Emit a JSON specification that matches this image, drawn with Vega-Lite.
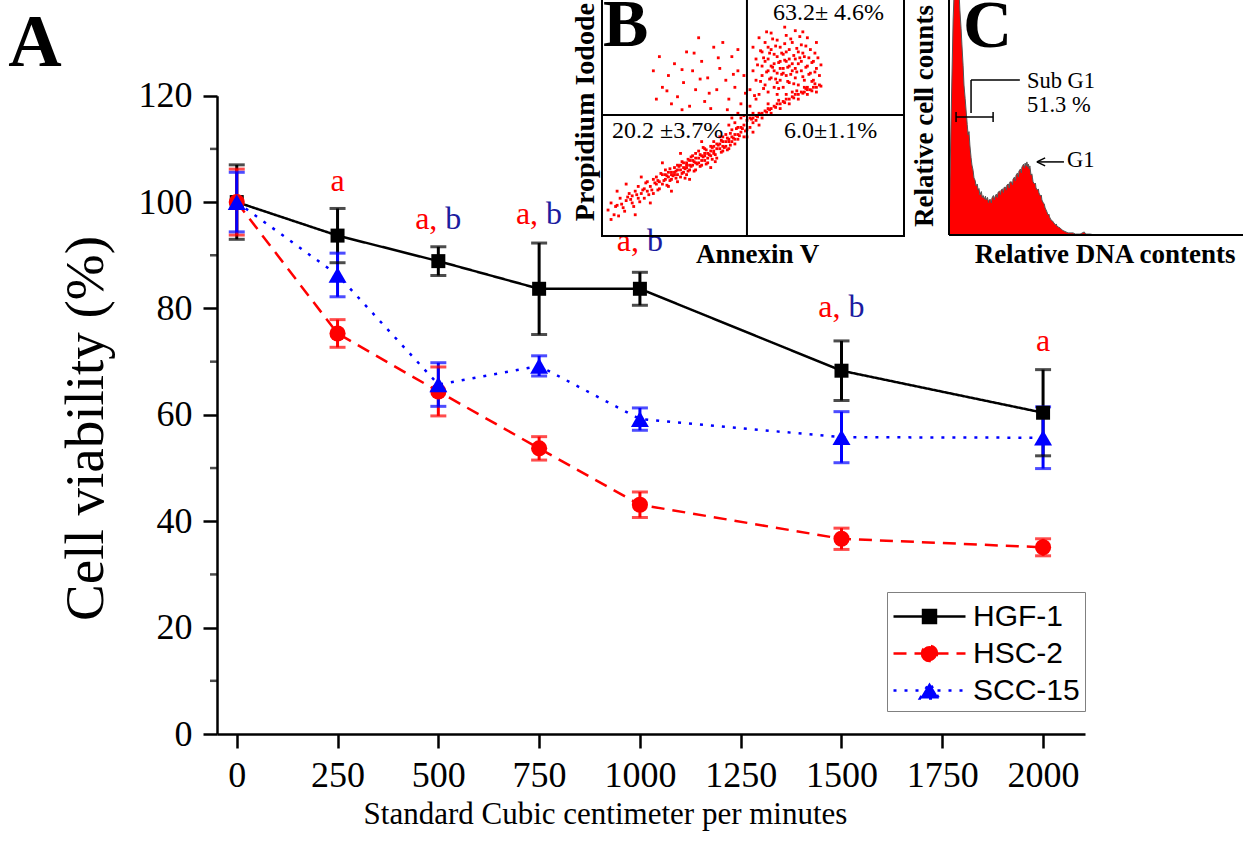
{
  "$schema": "https://vega.github.io/schema/vega-lite/v6.json",
  "width": 1026,
  "height": 734,
  "autosize": {"type": "none"},
  "padding": {"left": 217, "top": 0, "right": 0, "bottom": 110},
  "background": "white",
  "config": {
    "view": {"stroke": null},
    "axis": {"domainColor": "black", "domainWidth": 2.5, "tickColor": "black", "tickWidth": 2.5, "tickSize": 14, "labelColor": "black", "labelFont": "Liberation Serif", "labelFontSize": 36, "titleFont": "Liberation Serif", "titleFontWeight": "normal", "titleColor": "black", "grid": false, "labelFlush": false, "labelOverlap": false}
  },
  "datasets": {
    "viability": [
      {"series": "HGF-1", "dose": 0, "mean": 100, "lo": 93.0, "hi": 107.0},
      {"series": "HGF-1", "dose": 250, "mean": 93.7, "lo": 88.6, "hi": 98.8},
      {"series": "HGF-1", "dose": 500, "mean": 88.9, "lo": 86.2, "hi": 91.6},
      {"series": "HGF-1", "dose": 750, "mean": 83.7, "lo": 75.1, "hi": 92.3},
      {"series": "HGF-1", "dose": 1000, "mean": 83.7, "lo": 80.6, "hi": 86.8},
      {"series": "HGF-1", "dose": 1500, "mean": 68.3, "lo": 62.7, "hi": 73.9},
      {"series": "HGF-1", "dose": 2000, "mean": 60.4, "lo": 52.3, "hi": 68.5},
      {"series": "HSC-2", "dose": 0, "mean": 100, "lo": 93.8, "hi": 106.2},
      {"series": "HSC-2", "dose": 250, "mean": 75.3, "lo": 72.7, "hi": 77.9},
      {"series": "HSC-2", "dose": 500, "mean": 64.4, "lo": 59.8, "hi": 69.0},
      {"series": "HSC-2", "dose": 750, "mean": 53.7, "lo": 51.5, "hi": 55.9},
      {"series": "HSC-2", "dose": 1000, "mean": 43.1, "lo": 40.7, "hi": 45.5},
      {"series": "HSC-2", "dose": 1500, "mean": 36.7, "lo": 34.7, "hi": 38.7},
      {"series": "HSC-2", "dose": 2000, "mean": 35.1, "lo": 33.5, "hi": 36.7},
      {"series": "SCC-15", "dose": 0, "mean": 100, "lo": 94.4, "hi": 105.6},
      {"series": "SCC-15", "dose": 250, "mean": 86.3, "lo": 82.2, "hi": 90.4},
      {"series": "SCC-15", "dose": 500, "mean": 65.7, "lo": 61.6, "hi": 69.8},
      {"series": "SCC-15", "dose": 750, "mean": 69.2, "lo": 67.3, "hi": 71.1},
      {"series": "SCC-15", "dose": 1000, "mean": 59.2, "lo": 57.1, "hi": 61.3},
      {"series": "SCC-15", "dose": 1500, "mean": 55.8, "lo": 51.0, "hi": 60.6},
      {"series": "SCC-15", "dose": 2000, "mean": 55.7, "lo": 49.9, "hi": 61.5}
    ],
    "signif": [
      {"dose": 250, "pos": 102.1, "red": "a", "blue": ""},
      {"dose": 500, "pos": 95.0, "red": "a,", "blue": "b"},
      {"dose": 750, "pos": 95.9, "red": "a,", "blue": "b"},
      {"dose": 1000, "pos": 90.8, "red": "a,", "blue": "b"},
      {"dose": 1500, "pos": 78.4, "red": "a,", "blue": "b"},
      {"dose": 2000, "pos": 72.0, "red": "a", "blue": ""}
    ],
    "minor": [{"v": 10}, {"v": 30}, {"v": 50}, {"v": 70}, {"v": 90}, {"v": 110}],
    "flow": [
      {"a":2,"p":11},{"a":3,"p":14},{"a":4,"p":9},{"a":5,"p":13},{"a":6,"p":16},{"a":7,"p":12},{"a":8,"p":15},{"a":9,"p":18},{"a":10,"p":14},{"a":10,"p":17},
      {"a":11,"p":19},{"a":12,"p":16},{"a":12,"p":21},{"a":13,"p":18},{"a":14,"p":20},{"a":14,"p":16},{"a":15,"p":23},{"a":15,"p":19},{"a":16,"p":21},{"a":17,"p":24},
      {"a":17,"p":18},{"a":18,"p":22},{"a":18,"p":25},{"a":19,"p":20},{"a":19,"p":23},{"a":20,"p":26},{"a":20,"p":22},{"a":21,"p":24},{"a":21,"p":28},{"a":22,"p":25},
      {"a":22,"p":21},{"a":23,"p":27},{"a":23,"p":24},{"a":24,"p":29},{"a":24,"p":26},{"a":25,"p":23},{"a":25,"p":28},{"a":26,"p":30},{"a":26,"p":25},{"a":27,"p":27},
      {"a":27,"p":31},{"a":28,"p":29},{"a":28,"p":26},{"a":29,"p":32},{"a":29,"p":28},{"a":30,"p":30},{"a":30,"p":34},{"a":31,"p":31},{"a":31,"p":28},{"a":32,"p":33},
      {"a":32,"p":36},{"a":33,"p":30},{"a":33,"p":34},{"a":34,"p":37},{"a":34,"p":32},{"a":35,"p":35},{"a":35,"p":31},{"a":36,"p":38},{"a":36,"p":34},{"a":37,"p":36},
      {"a":37,"p":40},{"a":38,"p":33},{"a":38,"p":37},{"a":39,"p":39},{"a":39,"p":42},{"a":40,"p":36},{"a":40,"p":40},{"a":41,"p":38},{"a":41,"p":43},{"a":42,"p":40},
      {"a":42,"p":37},{"a":43,"p":42},{"a":43,"p":45},{"a":44,"p":39},{"a":44,"p":43},{"a":45,"p":41},{"a":45,"p":46},{"a":46,"p":44},{"a":47,"p":42},{"a":47,"p":47},
      {"a":48,"p":45},{"a":8,"p":22},{"a":13,"p":25},{"a":20,"p":31},{"a":26,"p":35},{"a":33,"p":40},{"a":5,"p":19},{"a":16,"p":14},{"a":23,"p":19},{"a":29,"p":24},
      {"a":36,"p":29},{"a":11,"p":9},{"a":3,"p":7},
      {"a":21,"p":26},{"a":22,"p":27},{"a":23,"p":26},{"a":24,"p":27},{"a":25,"p":26},{"a":26,"p":28},{"a":27,"p":29},{"a":28,"p":30},{"a":29,"p":30},{"a":30,"p":32},
      {"a":31,"p":33},{"a":32,"p":31},{"a":33,"p":32},{"a":34,"p":34},{"a":35,"p":33},{"a":36,"p":36},{"a":37,"p":35},{"a":38,"p":39},{"a":39,"p":37},{"a":40,"p":38},
      {"a":41,"p":40},{"a":42,"p":41},{"a":43,"p":40},{"a":44,"p":41},{"a":45,"p":43},{"a":25,"p":30},{"a":28,"p":31},{"a":31,"p":35},{"a":34,"p":35},{"a":37,"p":38},{"a":40,"p":42},
      {"a":4.5,"p":12.5},{"a":6.5,"p":13.5},{"a":8.5,"p":16.5},{"a":9.5,"p":15.5},{"a":11.5,"p":17.5},{"a":13.5,"p":19.5},{"a":14.5,"p":22.5},{"a":16.5,"p":19.5},{"a":17.5,"p":22.5},{"a":18.5,"p":23.5},
      {"a":19.5,"p":26.5},{"a":20.5,"p":23.5},{"a":21.5,"p":25.5},{"a":22.5,"p":23.5},{"a":22.5,"p":28.5},{"a":23.5,"p":25.5},{"a":24.5,"p":24.5},{"a":24.5,"p":27.5},{"a":25.5,"p":29.5},{"a":26.5,"p":26.5},
      {"a":26.5,"p":31.5},{"a":27.5,"p":28.5},{"a":28.5,"p":27.5},{"a":28.5,"p":32.5},{"a":29.5,"p":29.5},{"a":30.5,"p":31.5},{"a":30.5,"p":27.5},{"a":31.5,"p":30.5},{"a":32.5,"p":34.5},{"a":32.5,"p":29.5},
      {"a":33.5,"p":33.5},{"a":34.5,"p":36.5},{"a":34.5,"p":30.5},{"a":35.5,"p":34.5},{"a":36.5,"p":32.5},{"a":36.5,"p":37.5},{"a":37.5,"p":34.5},{"a":38.5,"p":38.5},{"a":39.5,"p":35.5},{"a":39.5,"p":40.5},
      {"a":40.5,"p":37.5},{"a":41.5,"p":41.5},{"a":42.5,"p":38.5},{"a":42.5,"p":43.5},{"a":43.5,"p":41.5},{"a":44.5,"p":45.5},{"a":45.5,"p":42.5},{"a":46.5,"p":45.5},{"a":47.5,"p":44.5},{"a":29.5,"p":33.5},
      {"a":27.5,"p":24.5},{"a":33.5,"p":37.5},{"a":37.5,"p":31.5},{"a":41.5,"p":36.5},{"a":21.5,"p":21.5},{"a":18.5,"p":19.5},{"a":15.5,"p":17.5},{"a":12.5,"p":14.5},{"a":7.5,"p":10.5},{"a":5.5,"p":8.5},{"a":10.5,"p":12.5},
      {"a":49,"p":62},{"a":50,"p":70},{"a":50,"p":80},{"a":51,"p":66},{"a":51,"p":75},{"a":52,"p":84},{"a":52,"p":60},{"a":53,"p":72},{"a":53,"p":68},{"a":53,"p":78},
      {"a":54,"p":64},{"a":54,"p":82},{"a":55,"p":70},{"a":55,"p":75},{"a":55,"p":61},{"a":56,"p":86},{"a":56,"p":67},{"a":56,"p":79},{"a":57,"p":73},{"a":57,"p":63},
      {"a":57,"p":77},{"a":58,"p":69},{"a":58,"p":83},{"a":58,"p":60},{"a":59,"p":74},{"a":59,"p":66},{"a":59,"p":80},{"a":60,"p":71},{"a":60,"p":77},{"a":60,"p":63},
      {"a":61,"p":68},{"a":61,"p":85},{"a":61,"p":74},{"a":62,"p":65},{"a":62,"p":79},{"a":62,"p":72},{"a":63,"p":70},{"a":63,"p":82},{"a":63,"p":61},{"a":64,"p":75},
      {"a":64,"p":67},{"a":64,"p":87},{"a":65,"p":73},{"a":65,"p":78},{"a":65,"p":64},{"a":66,"p":70},{"a":66,"p":81},{"a":67,"p":66},{"a":67,"p":76},{"a":68,"p":72},
      {"a":68,"p":84},{"a":68,"p":63},{"a":69,"p":69},{"a":69,"p":79},{"a":70,"p":74},{"a":70,"p":66},{"a":71,"p":71},{"a":71,"p":82},{"a":72,"p":68},{"a":56,"p":72},
      {"a":58,"p":76},{"a":60,"p":69},{"a":62,"p":75},{"a":57,"p":70},{"a":61,"p":78},{"a":59,"p":71},{"a":63,"p":73},{"a":54,"p":74},{"a":66,"p":74},{"a":64,"p":71},
      {"a":58,"p":65},{"a":55,"p":80},{"a":49,"p":55},{"a":51,"p":58},{"a":50,"p":52},
      {"a":52.5,"p":65.5},{"a":53.5,"p":75.5},{"a":54.5,"p":69.5},{"a":55.5,"p":66.5},{"a":55.5,"p":77.5},{"a":56.5,"p":71.5},{"a":56.5,"p":83.5},{"a":57.5,"p":66.5},{"a":57.5,"p":80.5},{"a":58.5,"p":73.5},
      {"a":58.5,"p":62.5},{"a":59.5,"p":68.5},{"a":59.5,"p":77.5},{"a":60.5,"p":74.5},{"a":60.5,"p":81.5},{"a":61.5,"p":65.5},{"a":61.5,"p":71.5},{"a":62.5,"p":68.5},{"a":62.5,"p":83.5},{"a":63.5,"p":76.5},
      {"a":63.5,"p":64.5},{"a":64.5,"p":79.5},{"a":64.5,"p":69.5},{"a":65.5,"p":75.5},{"a":65.5,"p":84.5},{"a":66.5,"p":67.5},{"a":66.5,"p":77.5},{"a":67.5,"p":71.5},{"a":67.5,"p":80.5},{"a":68.5,"p":68.5},
      {"a":68.5,"p":75.5},{"a":69.5,"p":73.5},{"a":69.5,"p":65.5},{"a":70.5,"p":77.5},{"a":70.5,"p":69.5},{"a":71.5,"p":75.5},{"a":72.5,"p":72.5},{"a":50.5,"p":59.5},{"a":51.5,"p":72.5},{"a":52.5,"p":78.5},
      {"a":53.5,"p":62.5},{"a":54.5,"p":86.5},{"a":66.5,"p":86.5},{"a":60.5,"p":88.5},
      {"a":48,"p":49},{"a":49,"p":50},{"a":50,"p":50},{"a":51,"p":51},{"a":52,"p":52},{"a":53,"p":52},{"a":54,"p":53},{"a":55,"p":54},{"a":56,"p":54},{"a":57,"p":55},
      {"a":58,"p":56},{"a":59,"p":56},{"a":60,"p":57},{"a":61,"p":58},{"a":62,"p":58},{"a":63,"p":59},{"a":64,"p":60},{"a":65,"p":60},{"a":66,"p":61},{"a":67,"p":61},
      {"a":68,"p":62},{"a":69,"p":62},{"a":70,"p":63},{"a":71,"p":63},{"a":72,"p":64},{"a":50,"p":48},{"a":53,"p":50},{"a":56,"p":52},{"a":59,"p":54},{"a":62,"p":56},
      {"a":65,"p":58},{"a":68,"p":60},{"a":71,"p":61},{"a":55,"p":56},{"a":61,"p":60},{"a":67,"p":63},
      {"a":49.5,"p":49.5},{"a":51.5,"p":50.5},{"a":54.5,"p":52.5},{"a":57.5,"p":54.5},{"a":60.5,"p":56.5},{"a":63.5,"p":58.5},{"a":66.5,"p":60.5},{"a":69.5,"p":61.5},{"a":72.5,"p":63.5},{"a":58.5,"p":57.5},
      {"a":64.5,"p":61.5},{"a":70.5,"p":64.5},{"a":52.5,"p":51.5},{"a":55.5,"p":53.5},{"a":67.5,"p":62.5},
      {"a":44,"p":48},{"a":46,"p":50},{"a":45,"p":52},{"a":47,"p":51},{"a":43,"p":50},{"a":49,"p":46},{"a":50,"p":44},{"a":52,"p":47},{"a":48,"p":42},{"a":51,"p":49},
      {"a":46,"p":46},{"a":42,"p":47},
      {"a":17,"p":70},{"a":19,"p":76},{"a":20,"p":63},{"a":22,"p":68},{"a":24,"p":73},{"a":25,"p":59},{"a":27,"p":65},{"a":28,"p":78},{"a":30,"p":70},{"a":31,"p":62},
      {"a":33,"p":74},{"a":34,"p":57},{"a":35,"p":67},{"a":37,"p":80},{"a":38,"p":62},{"a":39,"p":71},{"a":41,"p":66},{"a":42,"p":58},{"a":43,"p":76},{"a":44,"p":63},
      {"a":45,"p":70},{"a":46,"p":56},{"a":47,"p":68},{"a":40,"p":82},{"a":36,"p":54},{"a":29,"p":55},{"a":23,"p":56},{"a":32,"p":84},{"a":45,"p":79},{"a":18,"p":58},
      {"a":21.5,"p":61.5},{"a":26.5,"p":70.5},{"a":32.5,"p":66.5},{"a":38.5,"p":75.5},{"a":43.5,"p":68.5},{"a":30.5,"p":77.5},{"a":35.5,"p":60.5},{"a":41.5,"p":53.5},{"a":26.5,"p":53.5},{"a":47.5,"p":60.5}
    ],
    "flowLabels": [
      {"t": "63.2± 4.6%", "x": 56.6, "y": 91.5},
      {"t": "20.2 ±3.7%", "x": 3.3, "y": 41.5},
      {"t": "6.0±1.1%", "x": 60.3, "y": 41.5}
    ],
    "dna": [
      {"ch":0,"n":0},{"ch":0.7,"n":48.9},{"ch":1.4,"n":91.5},{"ch":2.0,"n":112},{"ch":3.1,"n":112},{"ch":3.7,"n":95.7},{"ch":4.1,"n":88},{"ch":4.4,"n":80.9},
      {"ch":4.8,"n":72},{"ch":5.1,"n":63.8},{"ch":5.5,"n":58},{"ch":5.8,"n":53.2},{"ch":6.2,"n":47},{"ch":6.5,"n":42.6},{"ch":6.8,"n":44},{"ch":7.1,"n":38.3},
      {"ch":7.5,"n":33},{"ch":7.8,"n":29.8},{"ch":8.2,"n":27.5},{"ch":8.5,"n":24.3},{"ch":8.9,"n":23.2},{"ch":9.2,"n":20.9},{"ch":9.6,"n":21.7},{"ch":9.9,"n":19.1},
      {"ch":10.2,"n":19.8},{"ch":10.5,"n":17.0},{"ch":11.0,"n":18.5},{"ch":11.3,"n":16.0},{"ch":11.6,"n":16.8},{"ch":12.1,"n":15.3},{"ch":12.4,"n":16.6},{"ch":12.6,"n":14.9},
      {"ch":13.1,"n":16.0},{"ch":13.4,"n":13.8},{"ch":13.6,"n":14.9},{"ch":14.1,"n":15.1},{"ch":14.4,"n":13.6},{"ch":14.6,"n":15.7},{"ch":15.1,"n":16.8},{"ch":15.4,"n":15.0},
      {"ch":15.6,"n":16.2},{"ch":16.1,"n":17.4},{"ch":16.4,"n":16.0},{"ch":16.7,"n":18.2},{"ch":17.2,"n":18.7},{"ch":17.5,"n":17.2},{"ch":17.7,"n":19.1},{"ch":18.2,"n":19.6},
      {"ch":18.5,"n":18.1},{"ch":18.7,"n":20.2},{"ch":19.2,"n":20.4},{"ch":19.5,"n":19.1},{"ch":19.7,"n":21.3},{"ch":20.2,"n":21.7},{"ch":20.5,"n":20.0},{"ch":20.7,"n":22.6},
      {"ch":21.3,"n":22.6},{"ch":21.6,"n":21.4},{"ch":21.8,"n":23.8},{"ch":22.3,"n":24.7},{"ch":22.6,"n":23.0},{"ch":22.8,"n":25.5},{"ch":23.3,"n":26.4},{"ch":23.6,"n":24.7},
      {"ch":23.8,"n":27.2},{"ch":24.3,"n":28.1},{"ch":24.6,"n":26.4},{"ch":24.8,"n":28.9},{"ch":25.4,"n":30.2},{"ch":25.7,"n":28.5},{"ch":25.9,"n":30.6},{"ch":26.2,"n":29.4},
      {"ch":26.5,"n":31.1},{"ch":26.8,"n":28.9},{"ch":27.0,"n":30.2},{"ch":27.3,"n":28.1},{"ch":27.5,"n":29.4},{"ch":27.9,"n":25.5},{"ch":28.2,"n":26.0},{"ch":28.4,"n":24.3},
      {"ch":28.6,"n":22.6},{"ch":29.1,"n":21.7},{"ch":29.4,"n":22.1},{"ch":29.6,"n":20.0},{"ch":30.1,"n":19.1},{"ch":30.4,"n":19.6},{"ch":30.6,"n":17.9},{"ch":31.1,"n":16.6},
      {"ch":31.4,"n":17.0},{"ch":31.6,"n":14.9},{"ch":32.1,"n":13.6},{"ch":32.4,"n":13.2},{"ch":32.7,"n":11.5},{"ch":33.2,"n":10.2},{"ch":33.7,"n":8.5},{"ch":34.0,"n":8.9},
      {"ch":34.2,"n":7.7},{"ch":34.7,"n":6.4},{"ch":35.2,"n":6.0},{"ch":35.7,"n":5.1},{"ch":36.2,"n":4.3},{"ch":36.5,"n":4.7},{"ch":36.7,"n":3.8},{"ch":37.2,"n":3.4},
      {"ch":37.8,"n":3.0},{"ch":38.5,"n":2.1},{"ch":39.1,"n":1.7},{"ch":40.5,"n":0.9},{"ch":42.2,"n":0.9},{"ch":43.0,"n":0.4},{"ch":44.6,"n":0.4},{"ch":46.0,"n":1.3},
      {"ch":46.5,"n":0.4},{"ch":48.0,"n":0.4},{"ch":49.7,"n":0},{"ch":51.4,"n":0}
    ],
    "gate": [
      {"x": 2.4, "x2": 15.0, "y": 50.2, "y2": 50.2},
      {"x": 2.4, "x2": 2.4, "y": 48.1, "y2": 52.3},
      {"x": 15.0, "x2": 15.0, "y": 48.1, "y2": 52.3},
      {"x": 7.5, "x2": 7.5, "y": 51.9, "y2": 66.0},
      {"x": 7.5, "x2": 24.1, "y": 66.0, "y2": 66.0},
      {"x": 29.9, "x2": 39.1, "y": 31.1, "y2": 31.1},
      {"x": 29.9, "x2": 32.7, "y": 31.1, "y2": 32.8},
      {"x": 29.9, "x2": 32.7, "y": 31.1, "y2": 29.4}
    ],
    "dnaLabels": [
      {"t": "Sub G1", "x": 26.5, "y": 62.6},
      {"t": "51.3 %", "x": 26.5, "y": 52.3},
      {"t": "G1", "x": 40.1, "y": 28.9}
    ],
    "one": [{}]
  },
  "layer": [
    {
      "layer": [
        {
          "data": {"name": "viability"},
          "mark": {"type": "line", "strokeWidth": 2.5},
          "encoding": {
            "x": {"field": "dose", "type": "quantitative", "scale": {"domain": [-49, 2104], "range": [0, 868], "nice": false, "zero": false},
                  "axis": {"values": [0, 250, 500, 750, 1000, 1250, 1500, 1750, 2000], "format": "d", "title": "Standard Cubic centimeter per minutes", "titleFontSize": 31, "titleX": 388, "titleY": 89, "titleAlign": "center", "titleBaseline": "alphabetic", "labelPadding": 10}},
            "y": {"field": "mean", "type": "quantitative", "scale": {"domain": [0, 120], "range": [734, 95.7], "nice": false, "zero": false},
                  "axis": {"values": [0, 20, 40, 60, 80, 100, 120], "title": "Cell viability (%)", "titleFontSize": 55, "titleX": -115, "titleY": 428, "titleAngle": -90, "titleAlign": "center", "titleBaseline": "alphabetic", "labelPadding": 11}},
            "color": {"field": "series", "type": "nominal", "scale": {"domain": ["HGF-1", "HSC-2", "SCC-15"], "range": ["#000000", "#ff0000", "#0000ff"]},
                      "legend": {"orient": "none", "legendX": 670, "legendY": 592, "title": null, "symbolSize": 1296, "symbolStrokeWidth": 2.5, "symbolOffset": 18, "labelOffset": 24,
                                 "labelFont": "Liberation Sans", "labelFontSize": 30, "labelColor": "black", "padding": 5, "rowPadding": 2, "strokeColor": "#808080", "fillColor": "white",
                                 "encode": {"symbols": {"update": {
                                   "shape": {"signal": "datum.value === 'HGF-1' ? 'M-2,0H2M-0.36,-0.36H0.36V0.36H-0.36Z' : datum.value === 'HSC-2' ? 'M-2,0H2M-0.42,0A0.42,0.42,0,1,0,0.42,0A0.42,0.42,0,1,0,-0.42,0Z' : 'M-2,0H2M-0.53,0.44L0,-0.44L0.53,0.44Z'"},
                                   "fill": {"signal": "datum.value === 'HGF-1' ? '#000000' : datum.value === 'HSC-2' ? '#ff0000' : '#0000ff'"},
                                   "stroke": {"signal": "datum.value === 'HGF-1' ? '#000000' : datum.value === 'HSC-2' ? '#ff0000' : '#0000ff'"},
                                   "strokeDash": {"signal": "datum.value === 'HSC-2' ? [9,6] : datum.value === 'SCC-15' ? [2,7] : [1,0]"},
                                   "opacity": {"value": 1},
                                   "fillOpacity": {"value": 1}
                                 }}}}},
            "strokeDash": {"field": "series", "type": "nominal", "scale": {"domain": ["HGF-1", "HSC-2", "SCC-15"], "range": [[1, 0], [13, 8], [3, 8]]}, "legend": null}
          }
        },
        {
          "data": {"name": "viability"},
          "mark": {"type": "rule", "strokeWidth": 3},
          "encoding": {
            "x": {"field": "dose", "type": "quantitative", "scale": {"domain": [-49, 2104], "range": [0, 868], "nice": false, "zero": false}, "title": "Standard Cubic centimeter per minutes"},
            "y": {"field": "lo", "type": "quantitative", "scale": {"domain": [0, 120], "range": [734, 95.7], "nice": false, "zero": false}, "title": "Cell viability (%)"},
            "y2": {"field": "hi"},
            "color": {"field": "series", "type": "nominal"}
          }
        },
        {
          "data": {"name": "viability"},
          "mark": {"type": "tick", "orient": "horizontal", "size": 16, "thickness": 3},
          "encoding": {
            "x": {"field": "dose", "type": "quantitative", "scale": {"domain": [-49, 2104], "range": [0, 868], "nice": false, "zero": false}, "title": "Standard Cubic centimeter per minutes"},
            "y": {"field": "lo", "type": "quantitative", "scale": {"domain": [0, 120], "range": [734, 95.7], "nice": false, "zero": false}, "title": "Cell viability (%)"},
            "color": {"field": "series", "type": "nominal"}
          }
        },
        {
          "data": {"name": "viability"},
          "mark": {"type": "tick", "orient": "horizontal", "size": 16, "thickness": 3},
          "encoding": {
            "x": {"field": "dose", "type": "quantitative", "scale": {"domain": [-49, 2104], "range": [0, 868], "nice": false, "zero": false}, "title": "Standard Cubic centimeter per minutes"},
            "y": {"field": "hi", "type": "quantitative", "scale": {"domain": [0, 120], "range": [734, 95.7], "nice": false, "zero": false}, "title": "Cell viability (%)"},
            "color": {"field": "series", "type": "nominal"}
          }
        },
        {
          "data": {"name": "viability"},
          "transform": [{"filter": "datum.series === 'HGF-1'"}],
          "mark": {"type": "square", "size": 196, "filled": true, "opacity": 1},
          "encoding": {
            "x": {"field": "dose", "type": "quantitative", "scale": {"domain": [-49, 2104], "range": [0, 868], "nice": false, "zero": false}, "title": "Standard Cubic centimeter per minutes"},
            "y": {"field": "mean", "type": "quantitative", "scale": {"domain": [0, 120], "range": [734, 95.7], "nice": false, "zero": false}, "title": "Cell viability (%)"},
            "color": {"field": "series", "type": "nominal"}
          }
        },
        {
          "data": {"name": "viability"},
          "transform": [{"filter": "datum.series === 'HSC-2'"}],
          "mark": {"type": "circle", "size": 260, "filled": true, "opacity": 1},
          "encoding": {
            "x": {"field": "dose", "type": "quantitative", "scale": {"domain": [-49, 2104], "range": [0, 868], "nice": false, "zero": false}, "title": "Standard Cubic centimeter per minutes"},
            "y": {"field": "mean", "type": "quantitative", "scale": {"domain": [0, 120], "range": [734, 95.7], "nice": false, "zero": false}, "title": "Cell viability (%)"},
            "color": {"field": "series", "type": "nominal"}
          }
        },
        {
          "data": {"name": "viability"},
          "transform": [{"filter": "datum.series === 'SCC-15'"}],
          "mark": {"type": "point", "shape": "triangle-up", "size": 324, "filled": true, "opacity": 1},
          "encoding": {
            "x": {"field": "dose", "type": "quantitative", "scale": {"domain": [-49, 2104], "range": [0, 868], "nice": false, "zero": false}, "title": "Standard Cubic centimeter per minutes"},
            "y": {"field": "mean", "type": "quantitative", "scale": {"domain": [0, 120], "range": [734, 95.7], "nice": false, "zero": false}, "title": "Cell viability (%)"},
            "color": {"field": "series", "type": "nominal"}
          }
        },
        {
          "data": {"name": "minor"},
          "mark": {"type": "tick", "orient": "horizontal", "size": 7, "thickness": 2.5, "xOffset": -3.5, "color": "black"},
          "encoding": {
            "x": {"datum": -49, "type": "quantitative", "scale": {"domain": [-49, 2104], "range": [0, 868], "nice": false, "zero": false}, "title": "Standard Cubic centimeter per minutes"},
            "y": {"field": "v", "type": "quantitative", "scale": {"domain": [0, 120], "range": [734, 95.7], "nice": false, "zero": false}, "title": "Cell viability (%)"}
          }
        },
        {
          "data": {"name": "signif"},
          "transform": [{"filter": "datum.blue === ''"}],
          "mark": {"type": "text", "font": "Liberation Serif", "fontSize": 32, "align": "center", "baseline": "alphabetic", "color": "#ff0000"},
          "encoding": {
            "x": {"field": "dose", "type": "quantitative", "scale": {"domain": [-49, 2104], "range": [0, 868], "nice": false, "zero": false}, "title": "Standard Cubic centimeter per minutes"},
            "y": {"field": "pos", "type": "quantitative", "scale": {"domain": [0, 120], "range": [734, 95.7], "nice": false, "zero": false}, "title": "Cell viability (%)"},
            "text": {"field": "red"}
          }
        },
        {
          "data": {"name": "signif"},
          "transform": [{"filter": "datum.blue !== ''"}],
          "mark": {"type": "text", "font": "Liberation Serif", "fontSize": 32, "align": "right", "baseline": "alphabetic", "dx": -1, "color": "#ff0000"},
          "encoding": {
            "x": {"field": "dose", "type": "quantitative", "scale": {"domain": [-49, 2104], "range": [0, 868], "nice": false, "zero": false}, "title": "Standard Cubic centimeter per minutes"},
            "y": {"field": "pos", "type": "quantitative", "scale": {"domain": [0, 120], "range": [734, 95.7], "nice": false, "zero": false}, "title": "Cell viability (%)"},
            "text": {"field": "red"}
          }
        },
        {
          "data": {"name": "signif"},
          "transform": [{"filter": "datum.blue !== ''"}],
          "mark": {"type": "text", "font": "Liberation Serif", "fontSize": 32, "align": "left", "baseline": "alphabetic", "dx": 7, "color": "#1c1ca0"},
          "encoding": {
            "x": {"field": "dose", "type": "quantitative", "scale": {"domain": [-49, 2104], "range": [0, 868], "nice": false, "zero": false}, "title": "Standard Cubic centimeter per minutes"},
            "y": {"field": "pos", "type": "quantitative", "scale": {"domain": [0, 120], "range": [734, 95.7], "nice": false, "zero": false}, "title": "Cell viability (%)"},
            "text": {"field": "blue"}
          }
        },
        {
          "data": {"name": "one"},
          "mark": {"type": "text", "text": "A", "font": "Liberation Serif", "fontSize": 74, "fontWeight": "bold", "align": "left", "baseline": "alphabetic", "color": "black"},
          "encoding": {
            "x": {"datum": -567, "type": "quantitative", "scale": {"domain": [-49, 2104], "range": [0, 868], "nice": false, "zero": false}, "title": "Standard Cubic centimeter per minutes"},
            "y": {"datum": 125.6, "type": "quantitative", "scale": {"domain": [0, 120], "range": [734, 95.7], "nice": false, "zero": false}, "title": "Cell viability (%)"}
          }
        }
      ]
    },
    {
      "layer": [
        {
          "data": {"name": "flow"},
          "mark": {"type": "square", "size": 8, "color": "#ff0000", "opacity": 1},
          "encoding": {
            "x": {"field": "a", "type": "quantitative", "scale": {"domain": [0, 100], "range": [385, 687], "nice": false, "zero": false}, "axis": null},
            "y": {"field": "p", "type": "quantitative", "scale": {"domain": [0, 100], "range": [236, 0], "nice": false, "zero": false}, "axis": null}
          }
        },
        {
          "data": {"name": "one"},
          "mark": {"type": "rect", "fill": "transparent", "stroke": "black", "strokeWidth": 2},
          "encoding": {
            "x": {"datum": 0, "type": "quantitative", "scale": {"domain": [0, 100], "range": [385, 687], "nice": false, "zero": false}, "axis": null},
            "x2": {"datum": 100},
            "y": {"datum": 0, "type": "quantitative", "scale": {"domain": [0, 100], "range": [236, 0], "nice": false, "zero": false}, "axis": null},
            "y2": {"datum": 110}
          }
        },
        {
          "data": {"name": "one"},
          "mark": {"type": "rule", "stroke": "black", "strokeWidth": 2},
          "encoding": {
            "x": {"datum": 48, "type": "quantitative", "scale": {"domain": [0, 100], "range": [385, 687], "nice": false, "zero": false}, "axis": null},
            "y": {"datum": 0, "type": "quantitative", "scale": {"domain": [0, 100], "range": [236, 0], "nice": false, "zero": false}, "axis": null},
            "y2": {"datum": 110}
          }
        },
        {
          "data": {"name": "one"},
          "mark": {"type": "rule", "stroke": "black", "strokeWidth": 2},
          "encoding": {
            "x": {"datum": 0, "type": "quantitative", "scale": {"domain": [0, 100], "range": [385, 687], "nice": false, "zero": false}, "axis": null},
            "x2": {"datum": 100},
            "y": {"datum": 51.3, "type": "quantitative", "scale": {"domain": [0, 100], "range": [236, 0], "nice": false, "zero": false}, "axis": null}
          }
        },
        {
          "data": {"name": "flowLabels"},
          "mark": {"type": "text", "font": "Liberation Serif", "fontSize": 24, "align": "left", "baseline": "alphabetic", "color": "black"},
          "encoding": {
            "x": {"field": "x", "type": "quantitative", "scale": {"domain": [0, 100], "range": [385, 687], "nice": false, "zero": false}, "axis": null},
            "y": {"field": "y", "type": "quantitative", "scale": {"domain": [0, 100], "range": [236, 0], "nice": false, "zero": false}, "axis": null},
            "text": {"field": "t"}
          }
        },
        {
          "data": {"name": "one"},
          "mark": {"type": "text", "text": "B", "font": "Liberation Serif", "fontSize": 68, "fontWeight": "bold", "align": "left", "baseline": "alphabetic", "color": "black"},
          "encoding": {
            "x": {"datum": 0.3, "type": "quantitative", "scale": {"domain": [0, 100], "range": [385, 687], "nice": false, "zero": false}, "axis": null},
            "y": {"datum": 80.5, "type": "quantitative", "scale": {"domain": [0, 100], "range": [236, 0], "nice": false, "zero": false}, "axis": null}
          }
        },
        {
          "data": {"name": "one"},
          "mark": {"type": "text", "text": "Annexin V", "font": "Liberation Serif", "fontSize": 27, "fontWeight": "bold", "align": "center", "baseline": "alphabetic", "color": "black"},
          "encoding": {
            "x": {"datum": 51.5, "type": "quantitative", "scale": {"domain": [0, 100], "range": [385, 687], "nice": false, "zero": false}, "axis": null},
            "y": {"datum": -11.4, "type": "quantitative", "scale": {"domain": [0, 100], "range": [236, 0], "nice": false, "zero": false}, "axis": null}
          }
        },
        {
          "data": {"name": "one"},
          "mark": {"type": "text", "text": "Propidium Iodode", "font": "Liberation Serif", "fontSize": 28, "fontWeight": "bold", "align": "center", "baseline": "alphabetic", "angle": 270, "color": "black"},
          "encoding": {
            "x": {"datum": -2.6, "type": "quantitative", "scale": {"domain": [0, 100], "range": [385, 687], "nice": false, "zero": false}, "axis": null},
            "y": {"datum": 52.5, "type": "quantitative", "scale": {"domain": [0, 100], "range": [236, 0], "nice": false, "zero": false}, "axis": null}
          }
        }
      ]
    },
    {
      "layer": [
        {
          "data": {"name": "dna"},
          "mark": {"type": "area", "color": "#ff0000", "stroke": "#555555", "strokeWidth": 1, "opacity": 1},
          "encoding": {
            "x": {"field": "ch", "type": "quantitative", "scale": {"domain": [0, 100], "range": [732, 1026], "nice": false, "zero": false}, "axis": null},
            "y": {"field": "n", "type": "quantitative", "scale": {"domain": [0, 100], "range": [235, 0], "nice": false, "zero": false}, "axis": null, "stack": null}
          }
        },
        {
          "data": {"name": "one"},
          "mark": {"type": "rule", "stroke": "black", "strokeWidth": 2},
          "encoding": {
            "x": {"datum": 0, "type": "quantitative", "scale": {"domain": [0, 100], "range": [732, 1026], "nice": false, "zero": false}, "axis": null},
            "y": {"datum": 0, "type": "quantitative", "scale": {"domain": [0, 100], "range": [235, 0], "nice": false, "zero": false}, "axis": null},
            "y2": {"datum": 110}
          }
        },
        {
          "data": {"name": "one"},
          "mark": {"type": "rule", "stroke": "black", "strokeWidth": 2},
          "encoding": {
            "x": {"datum": 0, "type": "quantitative", "scale": {"domain": [0, 100], "range": [732, 1026], "nice": false, "zero": false}, "axis": null},
            "x2": {"datum": 100},
            "y": {"datum": 0, "type": "quantitative", "scale": {"domain": [0, 100], "range": [235, 0], "nice": false, "zero": false}, "axis": null}
          }
        },
        {
          "data": {"name": "gate"},
          "mark": {"type": "rule", "stroke": "black", "strokeWidth": 1.5},
          "encoding": {
            "x": {"field": "x", "type": "quantitative", "scale": {"domain": [0, 100], "range": [732, 1026], "nice": false, "zero": false}, "axis": null},
            "x2": {"field": "x2"},
            "y": {"field": "y", "type": "quantitative", "scale": {"domain": [0, 100], "range": [235, 0], "nice": false, "zero": false}, "axis": null},
            "y2": {"field": "y2"}
          }
        },
        {
          "data": {"name": "dnaLabels"},
          "mark": {"type": "text", "font": "Liberation Serif", "fontSize": 22.5, "align": "left", "baseline": "alphabetic", "color": "black"},
          "encoding": {
            "x": {"field": "x", "type": "quantitative", "scale": {"domain": [0, 100], "range": [732, 1026], "nice": false, "zero": false}, "axis": null},
            "y": {"field": "y", "type": "quantitative", "scale": {"domain": [0, 100], "range": [235, 0], "nice": false, "zero": false}, "axis": null},
            "text": {"field": "t"}
          }
        },
        {
          "data": {"name": "one"},
          "mark": {"type": "text", "text": "C", "font": "Liberation Serif", "fontSize": 68, "fontWeight": "bold", "align": "left", "baseline": "alphabetic", "color": "black"},
          "encoding": {
            "x": {"datum": 4.8, "type": "quantitative", "scale": {"domain": [0, 100], "range": [732, 1026], "nice": false, "zero": false}, "axis": null},
            "y": {"datum": 80, "type": "quantitative", "scale": {"domain": [0, 100], "range": [235, 0], "nice": false, "zero": false}, "axis": null}
          }
        },
        {
          "data": {"name": "one"},
          "mark": {"type": "text", "text": "Relative DNA contents", "font": "Liberation Serif", "fontSize": 27, "fontWeight": "bold", "align": "center", "baseline": "alphabetic", "color": "black"},
          "encoding": {
            "x": {"datum": 53.1, "type": "quantitative", "scale": {"domain": [0, 100], "range": [732, 1026], "nice": false, "zero": false}, "axis": null},
            "y": {"datum": -11.9, "type": "quantitative", "scale": {"domain": [0, 100], "range": [235, 0], "nice": false, "zero": false}, "axis": null}
          }
        },
        {
          "data": {"name": "one"},
          "mark": {"type": "text", "text": "Relative cell counts", "font": "Liberation Serif", "fontSize": 27, "fontWeight": "bold", "align": "center", "baseline": "alphabetic", "angle": 270, "color": "black"},
          "encoding": {
            "x": {"datum": -5.4, "type": "quantitative", "scale": {"domain": [0, 100], "range": [732, 1026], "nice": false, "zero": false}, "axis": null},
            "y": {"datum": 50.6, "type": "quantitative", "scale": {"domain": [0, 100], "range": [235, 0], "nice": false, "zero": false}, "axis": null}
          }
        }
      ]
    }
  ],
  "resolve": {"scale": {"x": "independent", "y": "independent"}}
}
